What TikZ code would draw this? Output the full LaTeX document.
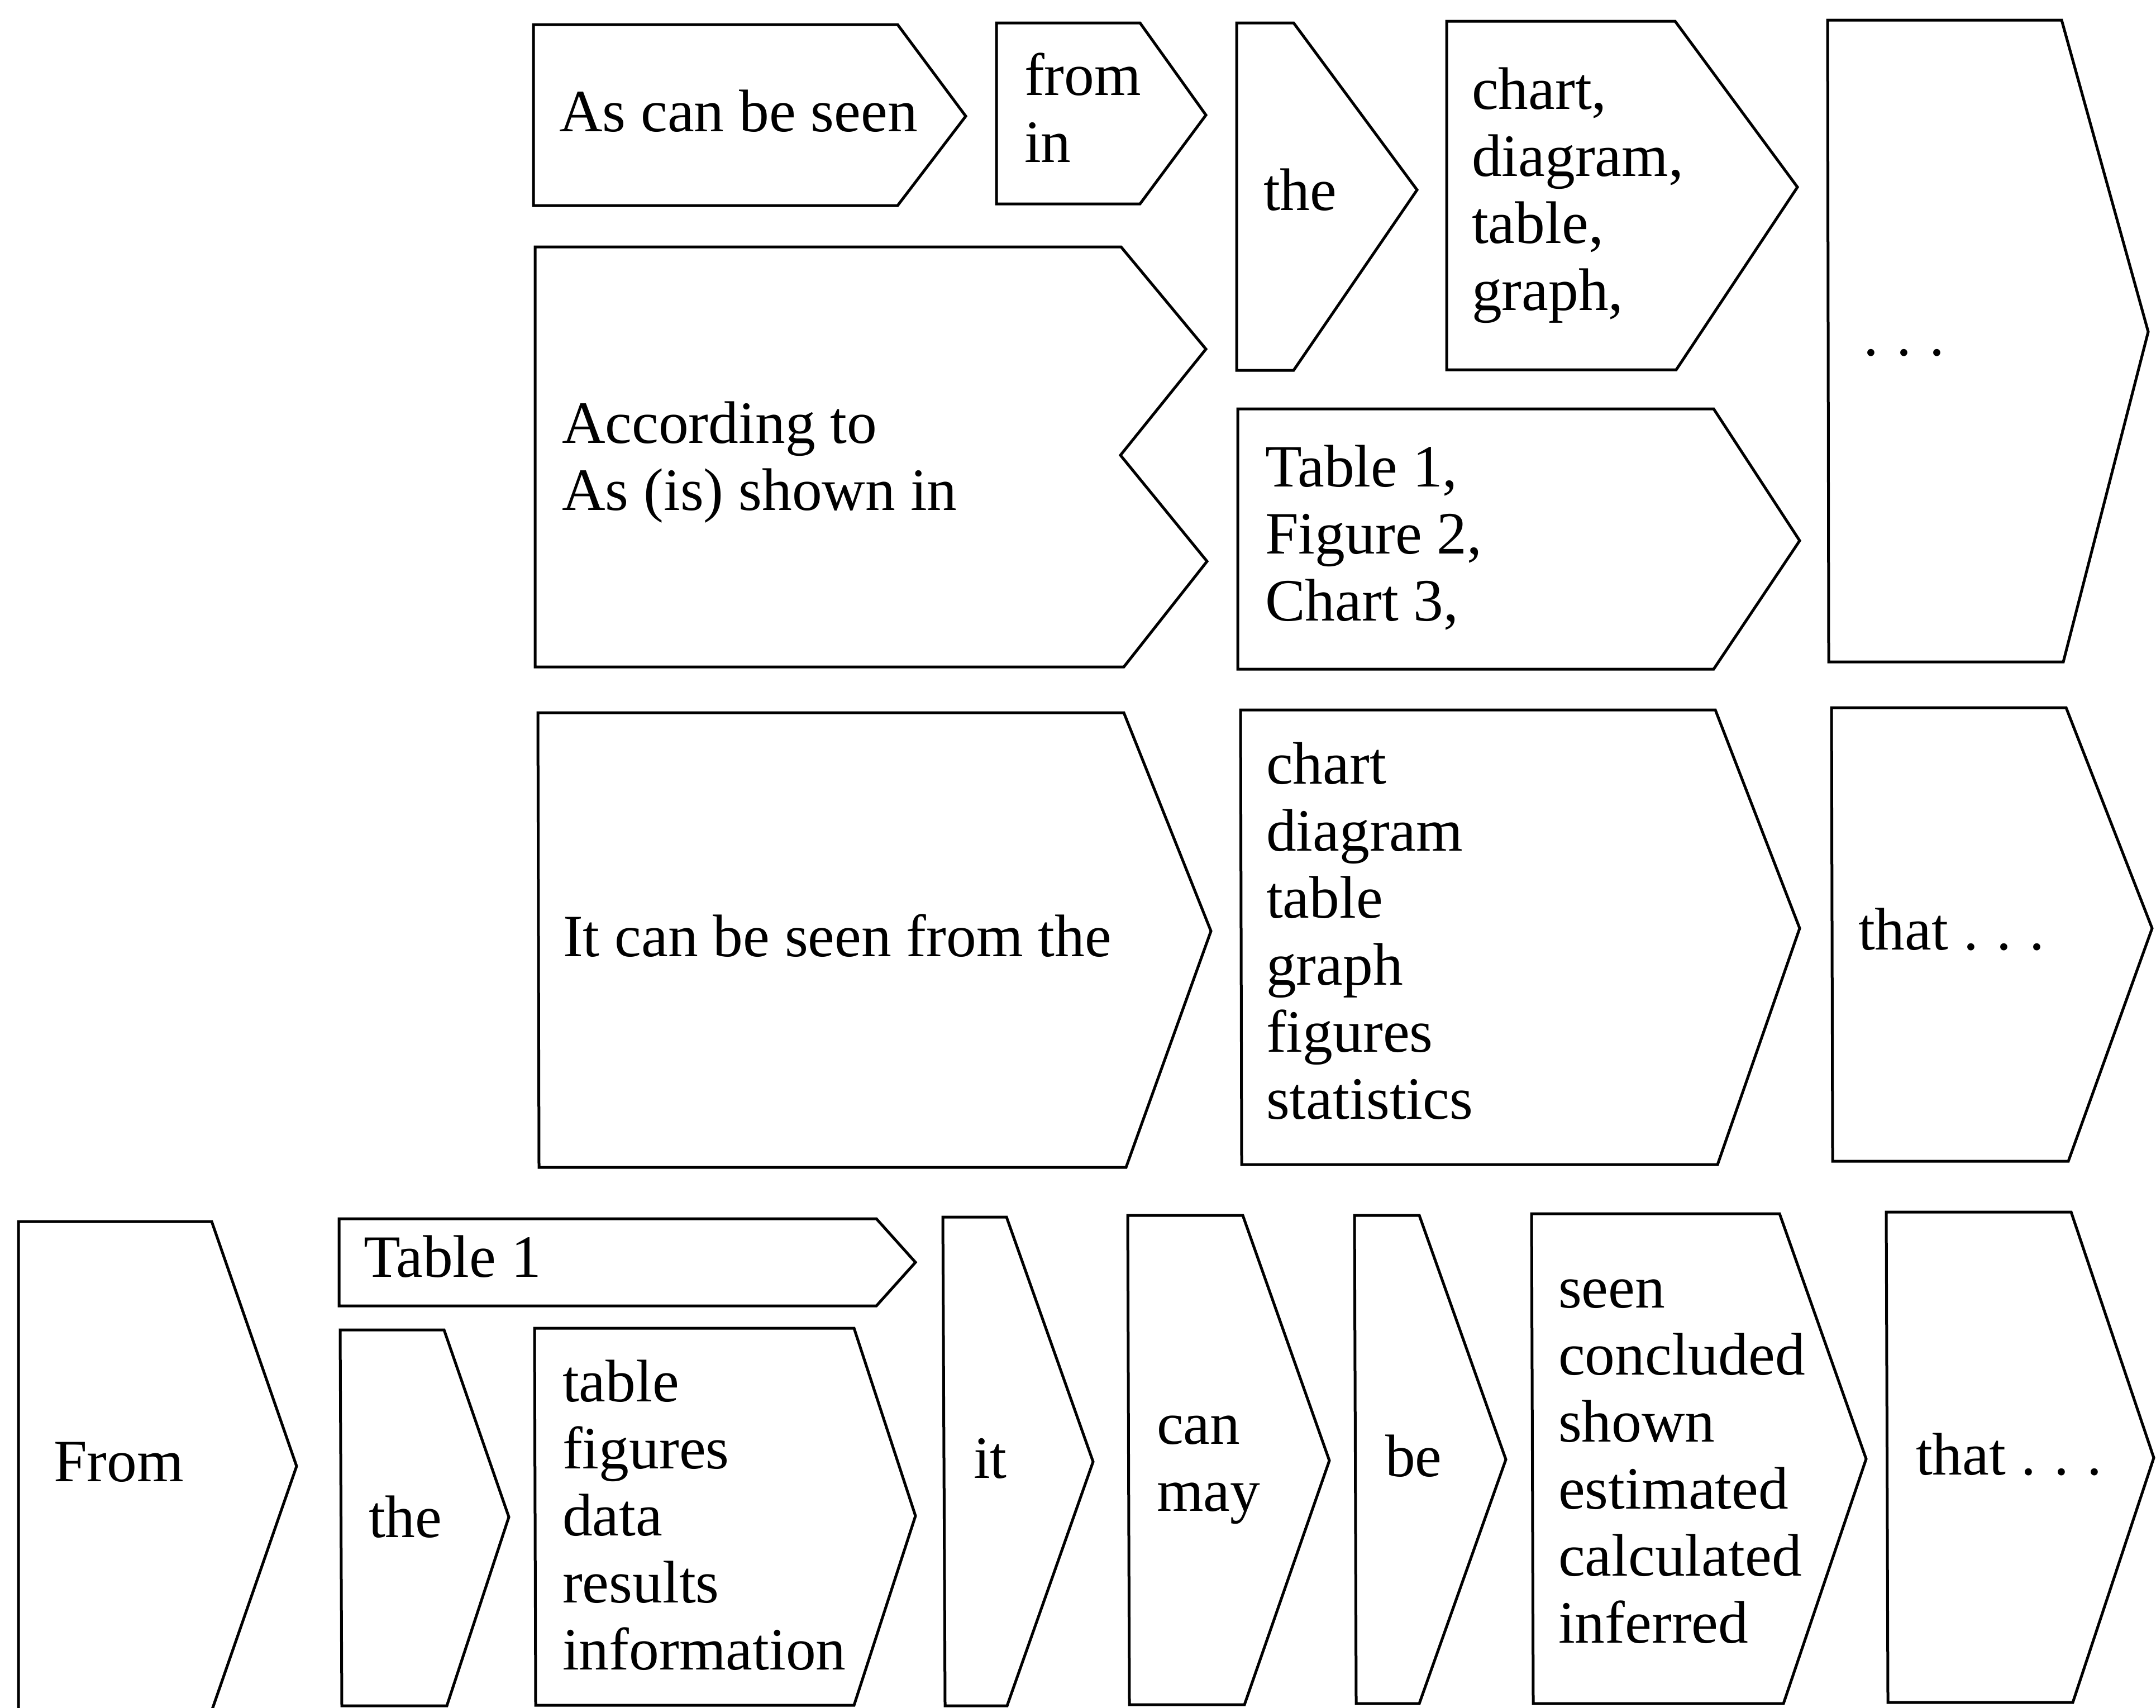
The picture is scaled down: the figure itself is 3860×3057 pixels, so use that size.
\documentclass[tikz,border=0pt]{standalone}
\usepackage{fontspec}
\setmainfont{Liberation Serif}
\newcommand\mylines[1]{\begin{tabular}[t]{@{}l@{}}#1\end{tabular}}
\newcommand\mydots{.\hspace{0.3em}.\hspace{0.3em}.}
\begin{document}
\begin{tikzpicture}[x=0.2pt,y=-0.2pt,
  box/.style={draw=black, line width=1pt, line join=miter},
  lbl/.style={anchor=base west, inner sep=0pt, font=\fontsize{21.5}{24}\selectfont}]
\fill[white] (0,0) rectangle (3860,3057);
\useasboundingbox (0,0) rectangle (3860,3057);
% ---- top block ----
\draw[box] (955,44) -- (1607,44) -- (1729,208) -- (1607,368) -- (955,368) -- cycle;
\draw[box] (1784,41) -- (2041,41) -- (2159,206) -- (2041,365) -- (1784,365) -- cycle;
\draw[box] (958,442) -- (2007,442) -- (2159,625) -- (2006,815) -- (2161,1005) -- (2012,1194) -- (958,1194) -- cycle;
\draw[box] (2214,41) -- (2316,41) -- (2537,340) -- (2316,663) -- (2214,663) -- cycle;
\draw[box] (2590,38) -- (2999,38) -- (3218,335) -- (3001,662) -- (2590,662) -- cycle;
\draw[box] (2216,732) -- (3068,732) -- (3222,968) -- (3068,1198) -- (2216,1198) -- cycle;
\draw[box] (3272,36) -- (3691,36) -- (3846,594) -- (3694,1185) -- (3274,1185) -- cycle;
% ---- middle block ----
\draw[box] (963,1276) -- (2012,1276) -- (2168,1667) -- (2016,2090) -- (965,2090) -- cycle;
\draw[box] (2221,1271) -- (3071,1271) -- (3222,1662) -- (3075,2085) -- (2223,2085) -- cycle;
\draw[box] (3279,1267) -- (3699,1267) -- (3853,1662) -- (3703,2079) -- (3281,2079) -- cycle;
% ---- bottom block ----
\draw[box] (33,2187) -- (379,2187) -- (531,2625) -- (379,3063) -- (33,3063) -- cycle;
\draw[box] (607,2182) -- (1569,2182) -- (1639,2260) -- (1569,2338) -- (607,2338) -- cycle;
\draw[box] (609,2381) -- (795,2381) -- (911,2716) -- (800,3054) -- (612,3054) -- cycle;
\draw[box] (957,2378) -- (1529,2378) -- (1639,2714) -- (1529,3053) -- (959,3053) -- cycle;
\draw[box] (1688,2179) -- (1802,2179) -- (1957,2617) -- (1803,3054) -- (1692,3054) -- cycle;
\draw[box] (2019,2176) -- (2225,2176) -- (2380,2615) -- (2228,3052) -- (2022,3052) -- cycle;
\draw[box] (2425,2176) -- (2541,2176) -- (2696,2613) -- (2541,3050) -- (2428,3050) -- cycle;
\draw[box] (2742,2173) -- (3186,2173) -- (3341,2612) -- (3193,3050) -- (2745,3050) -- cycle;
\draw[box] (3377,2170) -- (3708,2170) -- (3856,2610) -- (3711,3048) -- (3380,3048) -- cycle;
% ---- texts ----
\node[lbl] (t1) at (1000,235) {As can be seen};
\node[lbl] (t2) at (1833,170) {\mylines{from\\in}};
\node[lbl] (t3) at (1005,793) {\mylines{According to\\As (is) shown in}};
\node[lbl] (t4) at (2261,376) {the};
\node[lbl] (t5) at (2634,195) {\mylines{chart,\\diagram,\\table,\\graph,}};
\node[lbl] (t6) at (2264,871) {\mylines{Table 1,\\Figure 2,\\Chart 3,}};
\node[lbl] (t7) at (3335,636) {\mydots};
\node[lbl] (t8) at (1007,1712) {It can be seen from the};
\node[lbl] (t9) at (2266,1403) {\mylines{chart\\diagram\\table\\graph\\figures\\statistics}};
\node[lbl] (t10) at (3326,1700) {that \mydots};
\node[lbl] (t11) at (95,2652) {From};
\node[lbl] (t12) at (650,2286) {Table 1};
\node[lbl] (t13) at (659,2752) {the};
\node[lbl] (t14) at (1006,2509) {\mylines{table\\figures\\data\\results\\information}};
\node[lbl] (t15) at (1742,2646) {it};
\node[lbl] (t16) at (2070,2585) {\mylines{can\\may}};
\node[lbl] (t17) at (2479,2643) {be};
\node[lbl] (t18) at (2789,2341) {\mylines{seen\\concluded\\shown\\estimated\\calculated\\inferred}};
\node[lbl] (t19) at (3429,2640) {that \mydots};
\end{tikzpicture}
\end{document}
